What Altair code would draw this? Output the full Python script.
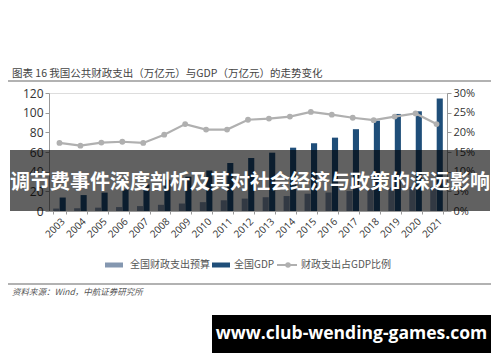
import altair as alt
import pandas as pd

years = [str(y) for y in range(2003, 2022)]
gdp = [13.7, 16.2, 18.7, 21.9, 27.0, 31.9, 34.9, 41.2, 48.8, 53.9, 59.3, 64.4, 68.9, 74.6, 83.2, 91.9, 98.7, 101.4, 114.4]
budget = [2.5, 2.8, 3.4, 4.0, 5.0, 6.3, 7.6, 9.0, 10.9, 12.6, 14.0, 15.2, 17.6, 18.8, 20.3, 22.1, 23.9, 24.6, 24.6]
ratio = [0.173, 0.166, 0.174, 0.176, 0.173, 0.194, 0.221, 0.207, 0.207, 0.232, 0.235, 0.240, 0.252, 0.245, 0.237, 0.231, 0.240, 0.248, 0.221]

series_names = ["全国财政支出预算", "全国GDP"]
series_colors = ["#8497b0", "#1f4e79"]

title_text = "图表 16 我国公共财政支出（万亿元）与GDP（万亿元）的走势变化"
source_text = "资料来源：Wind，中航证券研究所"
overlay_text = "调节费事件深度剖析及其对社会经济与政策的深远影响"
site_text = "www.club-wending-games.com"

bars_df = pd.DataFrame({
    "year": years * 2,
    "series": [series_names[0]] * len(years) + [series_names[1]] * len(years),
    "value": budget + gdp,
})
line_df = pd.DataFrame({"year": years, "ratio": ratio})
one = pd.DataFrame({"k": [0]})

CJK = "Noto Sans CJK SC"

xenc = alt.X("year:N", sort=years, title=None,
             scale=alt.Scale(paddingInner=0.4, paddingOuter=0.2),
             axis=alt.Axis(labelAngle=-45, labelFontSize=10, labelColor="#333",
                           domainColor="#999", tickColor="#999", tickSize=3,
                           tickBand="extent", labelPadding=2, labelFont="Open Sans"))

bars = alt.Chart(bars_df).mark_bar().encode(
    x=xenc,
    xOffset=alt.XOffset("series:N", sort=series_names, scale=alt.Scale(paddingInner=0.05)),
    y=alt.Y("value:Q", title=None, scale=alt.Scale(domain=[0, 120]),
            axis=alt.Axis(values=[0, 20, 40, 60, 80, 100, 120], grid=False, labelFontSize=12,
                          labelColor="#333", domainColor="#999", tickColor="#999",
                          tickSize=4, labelFont="Open Sans")),
    color=alt.Color("series:N", scale=alt.Scale(domain=series_names, range=series_colors), legend=None),
)

line = alt.Chart(line_df).mark_line(color="#b0b0b0", strokeWidth=2.2,
                                    point=alt.OverlayMarkDef(color="#b0b0b0", size=34, filled=True)).encode(
    x=alt.X("year:N", sort=years),
    y=alt.Y("ratio:Q", title=None, scale=alt.Scale(domain=[0, 0.30]),
            axis=alt.Axis(orient="right", format="%", values=[0, 0.05, 0.10, 0.15, 0.20, 0.25, 0.30],
                          grid=False, labelFontSize=11, labelColor="#333", domainColor="#999",
                          tickColor="#999", tickSize=4, labelFont="Open Sans")),
)

base = alt.Chart(one)

def rect(x1, x2, y1, y2, color, opacity=1.0):
    return base.mark_rect(color=color, opacity=opacity).encode(
        x=alt.value(x1), x2=alt.value(x2), y=alt.value(y1), y2=alt.value(y2))

def rule(x1, x2, y, color, w):
    return base.mark_rule(color=color, strokeWidth=w).encode(
        x=alt.value(x1), x2=alt.value(x2), y=alt.value(y))

def text(x, y, s, size, color, font=CJK, weight="normal", align="left", style="normal"):
    return base.mark_text(align=align, baseline="middle", fontSize=size, color=color,
                          font=font, fontWeight=weight, fontStyle=style).encode(
        x=alt.value(x), y=alt.value(y), text=alt.value(s))

title = text(-37, -19, title_text, 10.5, "#444", font="Noto Sans CJK SC")
title_line = rule(-44, 442, -12, "#999", 1.5)

overlay = rect(-39, 441, 57, 118, "#000000", 0.62)
overlay_t = text(201, 90, overlay_text, 20, "#ffffff", weight="bold", align="center")

# legend
lg_y = 172
leg = [
    rect(56, 74, lg_y - 2.5, lg_y + 2.5, series_colors[0]),
    text(81, lg_y, series_names[0], 10, "#555"),
    rect(163, 181, lg_y - 2.5, lg_y + 2.5, series_colors[1]),
    text(185, lg_y, series_names[1], 10, "#555"),
    rule(228, 248, lg_y, "#b0b0b0", 2),
    base.mark_point(filled=True, color="#b0b0b0", size=30, opacity=1).encode(
        x=alt.value(239), y=alt.value(lg_y)),
    text(252, lg_y, "财政支出占GDP比例", 10, "#555"),
]

src_line = rule(-44, 442, 191, "#999", 1.5)
src = text(-37, 199, source_text, 8.5, "#555", style="italic")

box = rect(163, 442, 222, 260, "#000000")
box_t = text(302.5, 241, site_text, 17.5, "#ffffff", font="Open Sans", weight="bold", align="center")

chart = alt.layer(
    bars, line, title, title_line, *leg, src_line, src, overlay, overlay_t, box, box_t
).resolve_scale(y="independent").properties(
    width=398, height=118,
    padding={"left": 41, "top": 85, "right": 45, "bottom": 143},
    autosize=alt.AutoSizeParams(type="none"),
).configure_view(stroke=None).configure(background="#ffffff")

chart.save("out.html", embed_options={"renderer": "svg", "actions": False})
